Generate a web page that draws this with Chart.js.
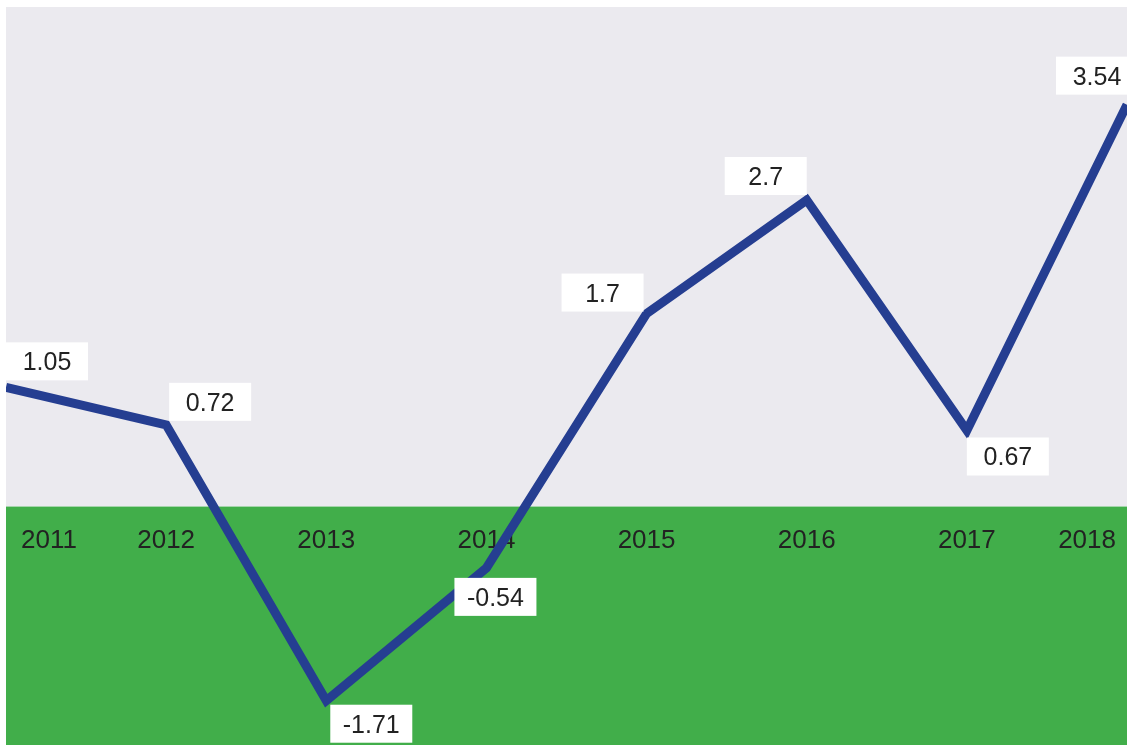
<!DOCTYPE html>
<html><head><meta charset="utf-8">
<script src="https://cdn.jsdelivr.net/npm/chart.js@4"></script>
<style>html,body{margin:0;padding:0;background:#fff;} #wrap{width:1127px;height:745px;}</style>
</head><body><div id="wrap"><canvas id="c" width="1127" height="745"></canvas></div>
<script>
// ---- data ----
const years = ['2011', '2012', '2013', '2014', '2015', '2016', '2017', '2018'];
const values = [1.05, 0.72, -1.71, -0.54, 1.7, 2.7, 0.67, 3.54];
const valueLabels = ['1.05', '0.72', '-1.71', '-0.54', '1.7', '2.7', '0.67', '3.54'];

// ---- styles ----
const plotBg = '#EBEAEF';
const negBg = '#41AE4A';
const lineColor = '#253E91';
const textColor = '#222222';
const fontFamily = '"Liberation Sans", Arial, Helvetica, sans-serif';
// label box placement per point (style only)
const boxPlacement = [
  {h: 'left', dx: 0, v: 'above', dy: 7},
  {h: 'left', dx: 3, v: 'above', dy: 4},
  {h: 'left', dx: 4, v: 'below', dy: 4},
  {h: 'center', dx: 9, v: 'below', dy: 10},
  {h: 'right', dx: -3, v: 'above', dy: 2},
  {h: 'right', dx: 0, v: 'above', dy: 5},
  {h: 'left', dx: 0, v: 'below', dy: 7},
  {h: 'right', dx: 11, v: 'above', dy: 10}
];
const boxW = 82, boxH = 38;

const deco = {
  id: 'deco',
  beforeDraw(chart) {
    const {ctx, chartArea: a, scales: {y}} = chart;
    const z = y.getPixelForValue(0);
    ctx.save();
    ctx.fillStyle = plotBg;
    ctx.fillRect(a.left, a.top, a.right - a.left, z - a.top);
    ctx.fillStyle = negBg;
    ctx.fillRect(a.left, z, a.right - a.left, a.bottom - z);
    ctx.restore();
  },
  beforeDatasetsDraw(chart) {
    const {ctx, scales: {x, y}} = chart;
    const z = y.getPixelForValue(0);
    ctx.save();
    ctx.font = '26px ' + fontFamily;
    ctx.fillStyle = textColor;
    ctx.textBaseline = 'alphabetic';
    years.forEach((lab, i) => {
      const px = x.getPixelForValue(i);
      let tx = px;
      if (i === 0) { ctx.textAlign = 'left'; tx = px + 15; }
      else if (i === years.length - 1) { ctx.textAlign = 'right'; tx = px - 11; }
      else { ctx.textAlign = 'center'; }
      ctx.fillText(lab, tx, z + 41);
    });
    ctx.restore();
  },
  afterDatasetsDraw(chart) {
    const {ctx} = chart;
    const meta = chart.getDatasetMeta(0);
    ctx.save();
    ctx.font = '25px ' + fontFamily;
    ctx.textAlign = 'center';
    ctx.textBaseline = 'alphabetic';
    meta.data.forEach((pt, i) => {
      const p = boxPlacement[i];
      let left;
      if (p.h === 'left') left = pt.x + p.dx;
      else if (p.h === 'right') left = pt.x + p.dx - boxW;
      else left = pt.x + p.dx - boxW / 2;
      const top = p.v === 'above' ? pt.y - p.dy - boxH : pt.y + p.dy;
      ctx.fillStyle = '#ffffff';
      ctx.fillRect(left, top, boxW, boxH);
      ctx.fillStyle = textColor;
      ctx.fillText(valueLabels[i], left + boxW / 2, top + boxH / 2 + 9);
    });
    ctx.restore();
  }
};

new Chart(document.getElementById('c'), {
  type: 'line',
  data: {
    labels: years,
    datasets: [{
      data: values,
      borderColor: lineColor,
      borderWidth: 9,
      borderJoinStyle: 'miter',
      pointRadius: 0,
      pointHoverRadius: 0,
      tension: 0,
      fill: false,
      clip: 0
    }]
  },
  options: {
    responsive: false,
    animation: false,
    devicePixelRatio: 1,
    layout: {padding: {left: 6, top: 7, right: 0, bottom: 0}},
    plugins: {legend: {display: false}, tooltip: {enabled: false}},
    scales: {
      x: {display: false, offset: false},
      y: {display: false, min: -2.1, max: 4.4}
    }
  },
  plugins: [deco]
});
</script>
</body></html>
